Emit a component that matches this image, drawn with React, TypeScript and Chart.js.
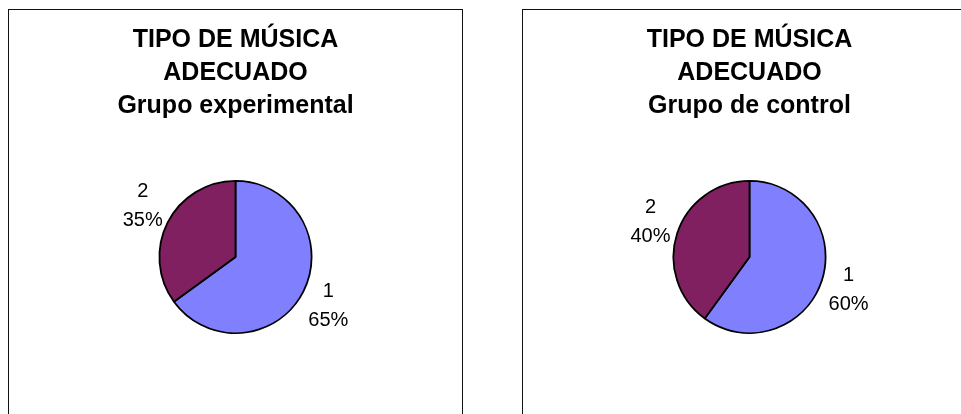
import React, { useEffect, useRef } from "react";
import { Chart, registerables } from "chart.js";

Chart.register(...registerables);

const categories = ["1", "2"];
const experimentalValues = [65, 35];
const controlValues = [60, 40];
const titleExperimental = ["TIPO DE MÚSICA", "ADECUADO", "Grupo experimental"];
const titleControl = ["TIPO DE MÚSICA", "ADECUADO", "Grupo de control"];
const sliceColors = ["#8080FF", "#802060"];

const FONT = "'Liberation Sans', Arial, Helvetica, sans-serif";

const labelPlugin = {
  id: "outsideLabels",
  afterDatasetsDraw(chart: any) {
    const ctx = chart.ctx;
    const meta = chart.getDatasetMeta(0);
    const data = chart.data.datasets[0].data as number[];
    const total = data.reduce((a: number, b: number) => a + b, 0);
    const labels = chart.data.labels as string[];
    ctx.save();
    ctx.font = `20px ${FONT}`;
    ctx.fillStyle = "#000";
    ctx.textAlign = "center";
    ctx.textBaseline = "middle";
    meta.data.forEach((arc: any, i: number) => {
      const p = arc.getProps(["x", "y", "startAngle", "endAngle", "outerRadius"], true);
      const mid = (p.startAngle + p.endAngle) / 2;
      const c = Math.cos(mid);
      const s = Math.sin(mid);
      const pct = Math.round((data[i] / total) * 100) + "%";
      const w = Math.max(ctx.measureText(labels[i]).width, ctx.measureText(pct).width);
      const h = 50;
      const d = p.outerRadius + 8;
      const cx = p.x + c * d + (c * w) / 2;
      const cy = p.y + s * d + (s * h) / 2 - 1;
      ctx.fillText(labels[i], cx, cy - 14.5);
      ctx.fillText(pct, cx, cy + 14.5);
    });
    ctx.restore();
  },
};

function PiePanel({ values, title }: { values: number[]; title: string[] }) {
  const ref = useRef<HTMLCanvasElement | null>(null);
  useEffect(() => {
    if (!ref.current) return;
    const chart = new Chart(ref.current, {
      type: "pie",
      data: {
        labels: categories,
        datasets: [
          {
            data: values,
            backgroundColor: sliceColors,
            borderColor: "#000",
            borderWidth: 1.8,
          },
        ],
      },
      options: {
        responsive: false,
        animation: false,
        layout: { padding: { top: 0, bottom: 81, left: 0, right: 0 } },
        plugins: {
          legend: { display: false },
          tooltip: { enabled: false },
          title: {
            display: true,
            text: title,
            color: "#000",
            font: { family: FONT, size: 25, weight: "bold", lineHeight: 1.32 },
            padding: { top: 14, bottom: 57 },
          },
        },
      },
      plugins: [labelPlugin],
    });
    return () => chart.destroy();
  }, [values, title]);
  return <canvas ref={ref} width={453} height={405} style={{ display: "block" }} />;
}

export default function App() {
  const panelStyle: React.CSSProperties = {
    position: "absolute",
    top: 9,
    width: 453,
    height: 410,
    borderLeft: "1px solid #111",
    borderRight: "1px solid #111",
    borderTop: "1px solid #111",
    background: "#fff",
  };
  return (
    <div
      style={{
        position: "fixed",
        left: 0,
        top: 0,
        width: 961,
        height: 414,
        overflow: "hidden",
        background: "#fff",
      }}
    >
      <div style={{ ...panelStyle, left: 8 }}>
        <PiePanel values={experimentalValues} title={titleExperimental} />
      </div>
      <div style={{ ...panelStyle, left: 522 }}>
        <PiePanel values={controlValues} title={titleControl} />
      </div>
    </div>
  );
}
